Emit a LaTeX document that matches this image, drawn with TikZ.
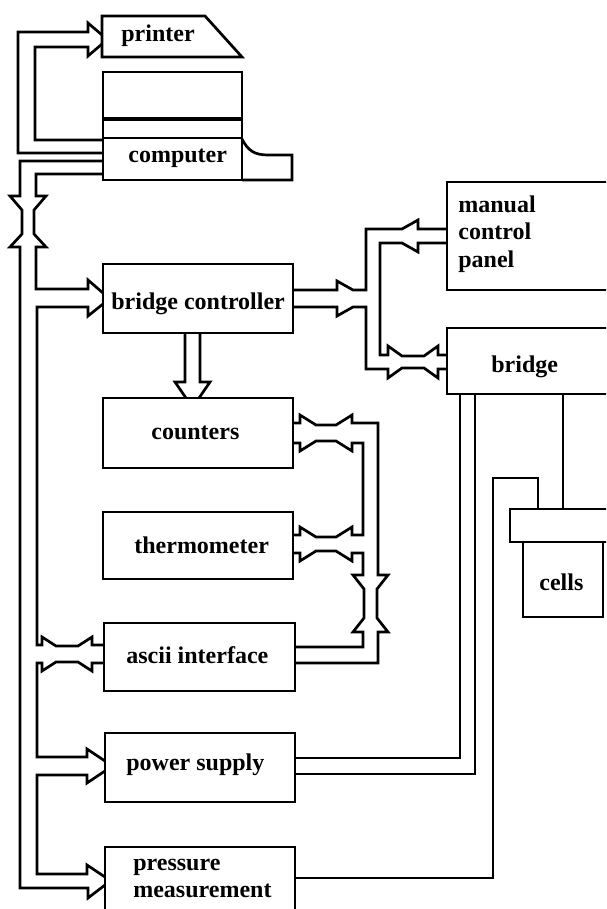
\documentclass[tikz,border=0pt]{standalone}
\usepackage{fontspec}
\setmainfont{Liberation Serif}
\begin{document}
\begin{tikzpicture}[x=1pt,y=-1pt,line width=2.7pt,line join=miter,miter limit=3,
  box/.style={draw,rectangle,inner sep=0pt,outer sep=0pt,anchor=north west},
  lbl/.style={anchor=base west,inner sep=0pt,font=\fontsize{24}{27}\selectfont\bfseries},
  pipe/.style={draw,line width=2.7pt}]
\path[use as bounding box] (0,0) rectangle (606,909);
\clip (0,0) rectangle (606,909);
% ---------- boxes ----------
\draw (102,16) -- (205,16) -- (242,57) -- (102,57) -- cycle;
\node[lbl] (printer) at (120,42) {printer};
\node[box,minimum width=139pt,minimum height=47pt] (disk) at (103,72) {};
\node[box,minimum width=139pt,minimum height=19pt] (strip) at (103,119) {};
\draw[line width=4pt] (strip.north west) -- (strip.north east);
\node[box,minimum width=139pt,minimum height=42pt] (comp) at (103,138) {};
\draw (242,139) .. controls (248,151) and (255,155) .. (268,155) -- (292,155) -- (292,180) -- (242,180);
\node[lbl] (compt) at (127,163) {computer};
\node[box,minimum width=190pt,minimum height=69pt] (bc) at (103,264) {};
\node[lbl] (bct) at (110,309) {bridge controller};
\node[box,minimum width=190pt,minimum height=70pt] (count) at (103,398) {};
\node[lbl] (countt) at (150,439) {counters};
\node[box,minimum width=190pt,minimum height=67pt] (thermo) at (103,512) {};
\node[lbl] (thermot) at (133,553) {thermometer};
\node[box,minimum width=191pt,minimum height=68pt] (ascii) at (104,623) {};
\node[lbl] (asciit) at (125,663) {ascii interface};
\node[box,minimum width=190pt,minimum height=69pt] (power) at (105,733) {};
\node[lbl] (powert) at (125,770) {power supply};
\node[box,minimum width=190pt,minimum height=90pt] (press) at (105,847) {};
\node[lbl] (presst1) at (132,870) {pressure};
\node[lbl] (presst2) at (132,897) {measurement};
\node[box,minimum width=200pt,minimum height=108pt] (manual) at (447,182) {};
\node[lbl] (mant1) at (457,213) {manual};
\node[lbl] (mant2) at (457,240) {control};
\node[lbl] (mant3) at (457,267) {panel};
\node[box,minimum width=200pt,minimum height=66pt] (bridge) at (447,328) {};
\node[lbl] (bridget) at (490,372) {bridge};
\node[box,minimum width=120pt,minimum height=33pt] (slab) at (510,509) {};
\node[box,minimum width=80pt,minimum height=75pt] (cells) at (523,542) {};
\node[lbl] (cellst) at (538,590) {cells};
% ---------- pipes: computer / printer ----------
\draw[pipe] (102,153) -- (18,153) -- (18,32) -- (88,32) -- (88,23) -- (102,35);
\draw[pipe] (102,140) -- (35,140) -- (35,47) -- (88,47) -- (88,56) -- (102,44);
% down pipe from computer (outer line to pressure measurement)
\draw[pipe] (102,161) -- (20,161) -- (20,196) -- (10,196) -- (22,210) -- (22,234) -- (10,247) -- (20,247)
  -- (20,888) -- (88,888) -- (88,898) -- (105,885);
\draw[pipe] (102,174) -- (36,174) -- (36,196) -- (46,196) -- (34,210) -- (34,234) -- (46,247) -- (36,247)
  -- (36,289) -- (88,289) -- (88,280) -- (103,293);
% bridge controller lower line -> ascii upper
\draw[pipe] (103,304) -- (88,316) -- (88,307) -- (37,307) -- (37,645) -- (42,645) -- (42,637) -- (56,646)
  -- (78,646) -- (92,637) -- (92,645) -- (104,645);
% ascii lower -> power upper
\draw[pipe] (104,663) -- (92,663) -- (92,671) -- (78,662) -- (56,662) -- (42,671) -- (42,663) -- (37,663)
  -- (37,757) -- (87,757) -- (87,749) -- (105,761);
% power lower -> pressure upper
\draw[pipe] (105,771) -- (87,783) -- (87,775) -- (37,775) -- (37,874) -- (87,874) -- (87,865) -- (105,877);
% fat arrow bridge controller -> counters
\draw[pipe] (185,333) -- (185,382) -- (175,382) -- (186,398);
\draw[pipe] (200,333) -- (200,382) -- (210,382) -- (199,398);
% ---------- right bus: counters / thermometer / ascii ----------
\draw[pipe] (293,423) -- (300,423) -- (300,415) -- (316,425) -- (336,425) -- (352,415) -- (352,423) -- (378,423)
  -- (378,575) -- (388,575) -- (377,589) -- (377,618) -- (388,632) -- (378,632) -- (378,663) -- (295,663);
\draw[pipe] (293,443) -- (300,443) -- (300,451) -- (316,441) -- (336,441) -- (352,451) -- (352,443) -- (363,443)
  -- (363,535) -- (352,535) -- (352,527) -- (336,537) -- (316,537) -- (300,527) -- (300,535) -- (293,535);
\draw[pipe] (293,553) -- (300,553) -- (300,561) -- (316,551) -- (336,551) -- (352,561) -- (352,553) -- (363,553)
  -- (363,575) -- (353,575) -- (364,589) -- (364,618) -- (353,632) -- (363,632) -- (363,647) -- (295,647);
% ---------- bridge controller -> manual panel / bridge ----------
\draw[pipe] (293,290) -- (337,290) -- (337,281) -- (353,290) -- (366,290) -- (366,229) -- (402,229)
  -- (418,220) -- (418,229) -- (447,229);
\draw[pipe] (447,243) -- (418,243) -- (418,252) -- (402,243) -- (380,243) -- (380,355) -- (388,355)
  -- (388,346) -- (402,356) -- (424,356) -- (438,346) -- (438,355) -- (447,355);
\draw[pipe] (293,307) -- (337,307) -- (337,316) -- (353,307) -- (366,307) -- (366,369) -- (388,369)
  -- (388,378) -- (402,368) -- (424,368) -- (438,378) -- (438,369) -- (447,369);
% ---------- bridge -> power supply / cells ----------
\draw[pipe] (460,394) -- (460,758) -- (295,758);
\draw[pipe] (475,394) -- (475,774) -- (295,774);
\draw[pipe] (563,394) -- (563,509);
\draw[pipe] (295,878) -- (493,878) -- (493,478) -- (538,478) -- (538,509);
\end{tikzpicture}
\end{document}
